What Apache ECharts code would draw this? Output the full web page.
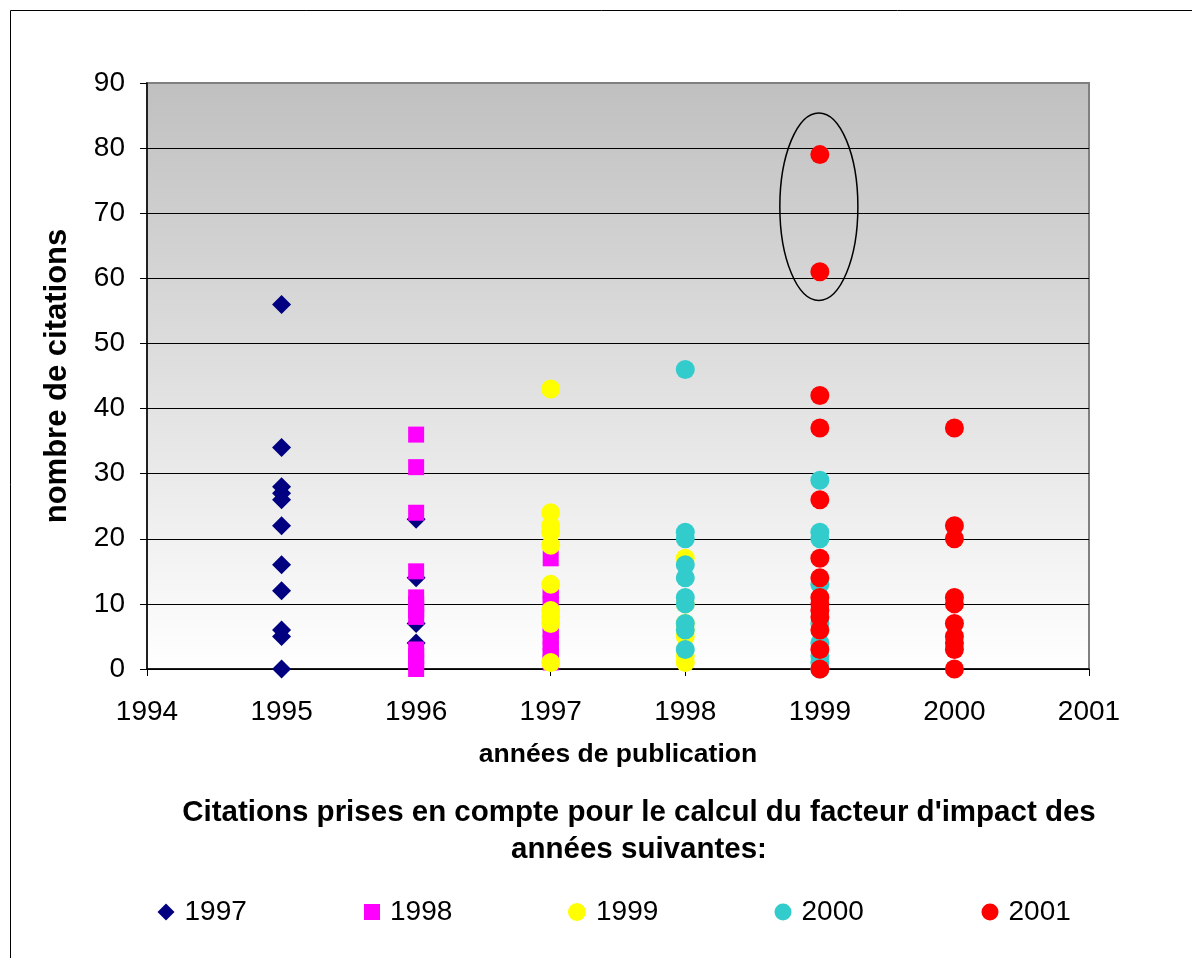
<!DOCTYPE html>
<html><head><meta charset="utf-8">
<script src="https://cdn.jsdelivr.net/npm/echarts@6/dist/echarts.min.js"></script>
<style>html,body{margin:0;padding:0;background:#fff}#c{width:1192px;height:958px}</style>
</head><body><div id="c"></div>
<script>
// publication year -> citation counts, per citing-year series
const xTicks = [1994, 1995, 1996, 1997, 1998, 1999, 2000, 2001];
const yTicks = [0, 10, 20, 30, 40, 50, 60, 70, 80, 90];
const seriesNames = ['1997', '1998', '1999', '2000', '2001'];
const cit1997_pub1995 = [56, 34, 28, 27, 26, 22, 16, 12, 6, 5, 0];
const cit1997_pub1996 = [23, 14, 7, 4];
const cit1998_pub1996 = [36, 31, 24, 15, 11, 10, 9, 8, 3, 2, 1, 0];
const cit1998_pub1997 = [17, 12, 11, 10, 8, 6, 5, 4, 3, 2, 1];
const cit1999_pub1997 = [43, 24, 22, 21, 19, 13, 9, 8, 7, 1];
const cit1999_pub1998 = [17, 10, 7, 6, 5, 2, 1];
const cit2000_pub1998 = [46, 21, 20, 16, 14, 11, 10, 7, 6, 3];
const cit2000_pub1999 = [29, 21, 20, 13, 7, 4, 2, 1, 0];
const cit2001_pub1999 = [79, 61, 42, 37, 26, 17, 14, 11, 10, 9, 8, 6, 3, 0];
const cit2001_pub2000 = [37, 22, 20, 11, 10, 7, 5, 4, 3, 0];

function pts(year, vals) { return vals.map(v => [year, v]); }

const font = 'Liberation Sans, Arial, sans-serif';
const colors = ['#000080', '#FF00FF', '#FFFF00', '#33CCCC', '#FF0000'];
const symbols = ['diamond', 'rect', 'circle', 'circle', 'circle'];
const sizes = [19, 16, 19, 19, 19];
const data = [
  pts(1995, cit1997_pub1995).concat(pts(1996, cit1997_pub1996)),
  pts(1996, cit1998_pub1996).concat(pts(1997, cit1998_pub1997)),
  pts(1997, cit1999_pub1997).concat(pts(1998, cit1999_pub1998)),
  pts(1998, cit2000_pub1998).concat(pts(1999, cit2000_pub1999)),
  pts(1999, cit2001_pub1999).concat(pts(2000, cit2001_pub2000))
];
const legendCenter = [166, 372, 577, 783, 990];
const legendIcon = [17, 16, 18, 17, 17];

const chart = echarts.init(document.getElementById('c'), null, {renderer: 'canvas'});
const splitColors = yTicks.map((t, i) => i === yTicks.length - 1 ? '#808080' : '#000000');

chart.setOption({
  animation: false,
  backgroundColor: '#ffffff',
  title: {
    text: "Citations prises en compte pour le calcul du facteur d'impact des\nannées suivantes:",
    left: 634, top: 789, textAlign: 'center',
    textStyle: {fontFamily: font, fontSize: 29.5, fontWeight: 'bold', color: '#000', lineHeight: 37}
  },
  legend: seriesNames.map((n, i) => ({
    data: [n], left: legendCenter[i] - legendIcon[i] / 2 - 5, top: 893,
    itemWidth: legendIcon[i], itemHeight: legendIcon[i], itemGap: 4,
    textStyle: {fontFamily: font, fontSize: 28, color: '#000', padding: [0, 0, 0, 5]}
  })),
  grid: {
    left: 147, right: 103, top: 83, bottom: 289, show: true,
    borderColor: '#808080', borderWidth: 2,
    backgroundColor: new echarts.graphic.LinearGradient(0, 0, 0, 1, [
      {offset: 0, color: '#c0c0c0'}, {offset: 1, color: '#ffffff'}
    ])
  },
  xAxis: {
    type: 'value', min: xTicks[0], max: xTicks[xTicks.length - 1], interval: 1,
    name: 'années de publication', nameLocation: 'middle', nameGap: 72,
    nameTextStyle: {fontFamily: font, fontSize: 26.5, fontWeight: 'bold', color: '#000'},
    axisLine: {lineStyle: {color: '#000', width: 1.5}},
    axisTick: {show: true, inside: false, length: 7, lineStyle: {color: '#000'}},
    axisLabel: {fontFamily: font, fontSize: 28, color: '#000', margin: 29, formatter: v => String(v)},
    splitLine: {show: false}
  },
  yAxis: {
    type: 'value', min: yTicks[0], max: yTicks[yTicks.length - 1], interval: 10,
    name: 'nombre de citations', nameLocation: 'middle', nameGap: 74,
    nameTextStyle: {fontFamily: font, fontSize: 31, fontWeight: 'bold', color: '#000'},
    axisLine: {show: true, lineStyle: {color: '#000', width: 1.5}},
    axisTick: {show: true, inside: false, length: 7, lineStyle: {color: '#000'}},
    axisLabel: {fontFamily: font, fontSize: 28, color: '#000', margin: 22},
    splitLine: {show: true, lineStyle: {color: splitColors, width: 1}}
  },
  series: seriesNames.map((n, i) => ({
    name: n, type: 'scatter', data: data[i], symbol: symbols[i], symbolSize: sizes[i],
    itemStyle: {color: colors[i], opacity: 1}
  }))
});

function drawExtras() {
  const c = chart.convertToPixel({gridIndex: 0}, [1999, 71]);
  const r = chart.convertToPixel({gridIndex: 0}, [1999.29, 85.4]);
  chart.setOption({
    graphic: [
      {type: 'rect', shape: {x: 10.5, y: 10.5, width: 1200, height: 960},
       style: {fill: 'none', stroke: '#000', lineWidth: 1}, z: 100, silent: true},
      {type: 'ellipse', shape: {cx: c[0] - 1, cy: c[1], rx: r[0] - c[0], ry: c[1] - r[1]},
       style: {fill: 'none', stroke: '#000', lineWidth: 1.5}, z: 100, silent: true}
    ]
  });
}
drawExtras();
</script>
</body></html>
